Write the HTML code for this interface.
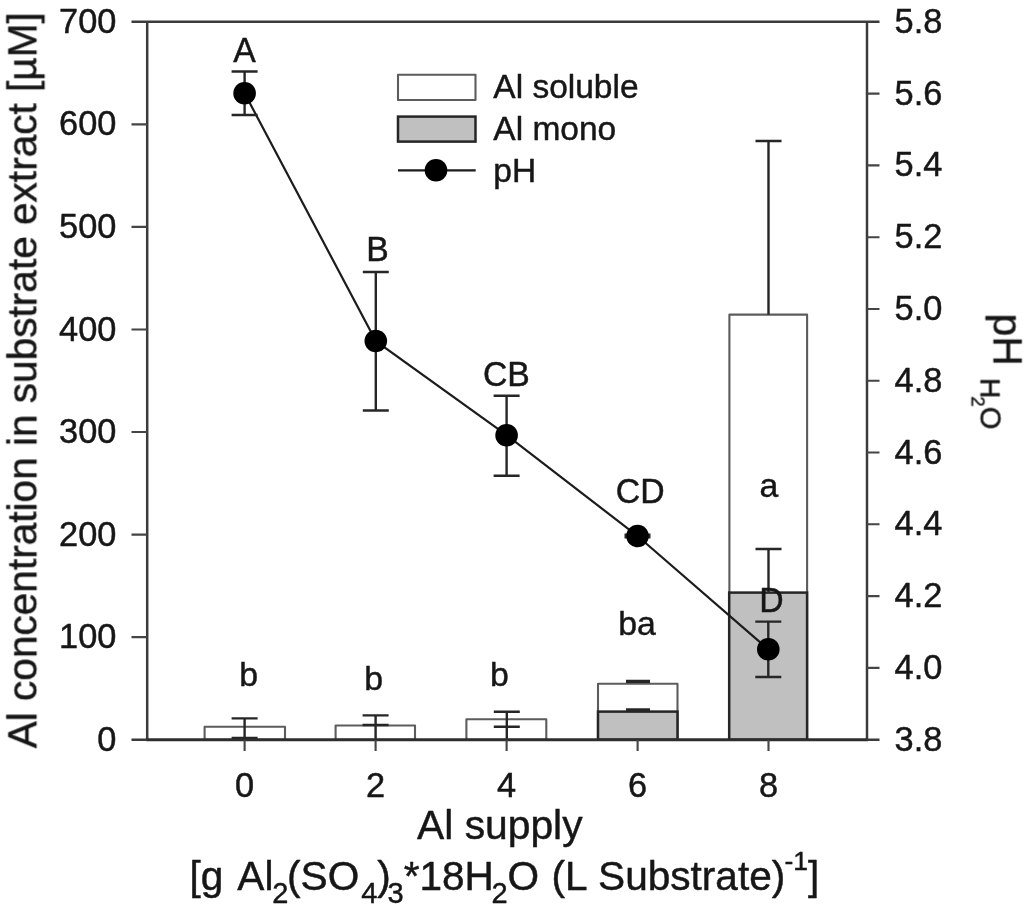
<!DOCTYPE html>
<html>
<head>
<meta charset="utf-8">
<title>Al supply chart</title>
<style>
html,body{margin:0;padding:0;background:#fff;}
body{width:1024px;height:910px;overflow:hidden;}
svg{display:block;font-family:"Liberation Sans",Arial,sans-serif;}
text{fill:#161616;stroke:#161616;stroke-width:0.45px;stroke-linejoin:round;}
.ax{stroke:#3a3a3a;stroke-width:2.5;fill:none;}
.tm{stroke:#444;stroke-width:2.1;fill:none;}
.axb{stroke:#2e2e2e;stroke-width:3;fill:none;}
.ln{stroke:#1c1c1c;stroke-width:2.2;fill:none;}
.eb{stroke:#262626;stroke-width:2.4;fill:none;}
.wb{fill:#fff;stroke:#5c5c5c;stroke-width:2.1;stroke-linejoin:round;}
.gb{fill:#c0c0c0;stroke:#262626;stroke-width:2.5;}
.pt{fill:#000;stroke:none;}
.tk{font-size:34.4px;}
.lg{font-size:33.5px;}
.lb{font-size:33.8px;text-anchor:middle;}
.tt{font-size:40.8px;}
.sb{font-size:29px;}
.sp{font-size:26.5px;}
</style>
</head>
<body>
<svg width="1024" height="910" viewBox="0 0 1024 910">
<defs><filter id="soft" x="-2%" y="-2%" width="104%" height="104%"><feGaussianBlur stdDeviation="0.7"/></filter></defs>
<rect x="0" y="0" width="1024" height="910" fill="#fff" stroke="none"/>
<g filter="url(#soft)">

<g id="bars">
<rect class="wb" x="204.6" y="726.8" width="80.4" height="12.9"/>
<rect class="wb" x="335.6" y="725.5" width="79.4" height="14.2"/>
<rect class="wb" x="466.4" y="719.3" width="79.9" height="20.4"/>
<rect class="wb" x="598.0" y="683.8" width="79.5" height="55.9"/>
<rect class="gb" x="598.0" y="711.6" width="79.5" height="28.1"/>
<rect class="wb" x="729.4" y="314.6" width="77.7" height="425.1"/>
<rect class="gb" x="729.2" y="592.6" width="77.9" height="147.1"/>
</g>
<g class="eb" id="barerr">
<path d="M244.6 718.4V739.7 M231.6 718.4H257.6M231.6 738H257.6"/>
<path d="M375.6 715.4V739.7 M362.6 715.4H388.6M362.6 725H388.6"/>
<path d="M506.8 711.7V739.7 M493.8 711.7H519.8M493.8 726.7H519.8"/>
<path d="M626 681.4H650M626 709.9H650" stroke-width="3.2"/>
<path d="M768.5 141V314.4M755.5 141H781.5"/>
<path d="M768.5 549V592.3M755.5 549H781.5"/>
</g>
<g id="axes">
<path class="ax" d="M147.2 21.8V739.7M867.0 21.8V739.7M131.5 21.8H879.5"/>
<path class="axb" d="M146.2 739.7H868.0"/>
<path class="ax" d="M131.5 739.7H147.2M867.0 739.7H879.5"/>
<path class="tm" d="M131.5 637.1H147.2M131.5 534.6H147.2M131.5 432.0H147.2M131.5 329.5H147.2M131.5 226.9H147.2M131.5 124.4H147.2"/>
<path class="tm" d="M867.0 667.9H879.5M867.0 596.1H879.5M867.0 524.3H879.5M867.0 452.5H879.5M867.0 380.8H879.5M867.0 309.0H879.5M867.0 237.2H879.5M867.0 165.4H879.5M867.0 93.6H879.5"/>
<path class="tm" d="M244.6 739.7V751M375.6 739.7V751M506.6 739.7V751M637.6 739.7V751M768.5 739.7V751"/>
</g>
<g id="ph">
<path class="ln" d="M244.6 93.3L375.8 341.0L506.6 435.2L637.5 536.0L768.3 649.3"/>
<g class="eb">
<path d="M244.6 71.5V115M231.6 71.5H257.6M231.6 115H257.6"/>
<path d="M375.8 272V410.5M362.8 272H388.8M362.8 410.5H388.8"/>
<path d="M506.6 395.8V475.8M493.6 395.8H519.6M493.6 475.8H519.6"/>
<path d="M624.5 536H650.5" stroke-width="5"/>
<path d="M768.3 621.6V677M755.3 621.6H781.3M755.3 677H781.3"/>
</g>
<circle class="pt" cx="244.6" cy="93.3" r="11.3"/>
<circle class="pt" cx="375.8" cy="341.0" r="11.3"/>
<circle class="pt" cx="506.6" cy="435.2" r="11.3"/>
<circle class="pt" cx="637.5" cy="536.0" r="11.3"/>
<circle class="pt" cx="768.3" cy="649.3" r="11.3"/>
</g>
<g id="legend">
<rect class="wb" x="398" y="74.8" width="77.5" height="25.2"/>
<rect class="gb" x="398" y="116.6" width="77.5" height="25"/>
<path class="ln" d="M398 170.3H475.7"/>
<circle class="pt" cx="436" cy="170.3" r="11.3"/>
<text class="lg" x="493.3" y="98.3">Al soluble</text>
<text class="lg" x="493.3" y="140.2">Al mono</text>
<text class="lg" x="493.3" y="182.2">pH</text>
</g>
<g class="tk" text-anchor="end" id="ylab">
<text transform="translate(116.4,32.8) scale(1,1.035)">700</text>
<text transform="translate(116.4,135.4) scale(1,1.035)">600</text>
<text transform="translate(116.4,237.9) scale(1,1.035)">500</text>
<text transform="translate(116.4,340.5) scale(1,1.035)">400</text>
<text transform="translate(116.4,443.0) scale(1,1.035)">300</text>
<text transform="translate(116.4,545.6) scale(1,1.035)">200</text>
<text transform="translate(116.4,648.1) scale(1,1.035)">100</text>
<text transform="translate(116.4,750.7) scale(1,1.035)">0</text>
</g>
<g class="tk" id="rlab">
<text transform="translate(894.6,32.8) scale(1,1.035)">5.8</text>
<text transform="translate(894.6,104.6) scale(1,1.035)">5.6</text>
<text transform="translate(894.6,176.4) scale(1,1.035)">5.4</text>
<text transform="translate(894.6,248.2) scale(1,1.035)">5.2</text>
<text transform="translate(894.6,320.0) scale(1,1.035)">5.0</text>
<text transform="translate(894.6,391.8) scale(1,1.035)">4.8</text>
<text transform="translate(894.6,463.5) scale(1,1.035)">4.6</text>
<text transform="translate(894.6,535.3) scale(1,1.035)">4.4</text>
<text transform="translate(894.6,607.1) scale(1,1.035)">4.2</text>
<text transform="translate(894.6,678.9) scale(1,1.035)">4.0</text>
<text transform="translate(894.6,750.7) scale(1,1.035)">3.8</text>
</g>
<g class="tk" text-anchor="middle" id="xlab">
<text transform="translate(244.6,797.3) scale(1,1.035)">0</text>
<text transform="translate(375.6,797.3) scale(1,1.035)">2</text>
<text transform="translate(506.6,797.3) scale(1,1.035)">4</text>
<text transform="translate(637.6,797.3) scale(1,1.035)">6</text>
<text transform="translate(768.5,797.3) scale(1,1.035)">8</text>
</g>
<g class="lb" id="letters">
<text transform="translate(244.6,62) scale(1,1.035)">A</text>
<text transform="translate(377.5,260.8) scale(1,1.035)">B</text>
<text transform="translate(506.4,385.6) scale(1,1.035)">CB</text>
<text transform="translate(640.2,502.5) scale(1,1.035)">CD</text>
<text transform="translate(771.5,612) scale(1,1.035)">D</text>
<text x="248.7" y="686">b</text>
<text x="373.7" y="690.2">b</text>
<text x="499.5" y="686">b</text>
<text x="637" y="634.8">ba</text>
<text x="769" y="497.2">a</text>
</g>
<g class="tt" id="titles">
<text x="499.8" y="838.9" text-anchor="middle">Al supply</text>
<text x="504.4" y="889.7" text-anchor="middle" font-size="40.6">[g<tspan dx="5"> Al</tspan><tspan class="sb" dy="13.6" dx="-1.2">2</tspan><tspan dy="-13.6" dx="-1.3">(SO</tspan><tspan class="sb" dy="13.6" dx="2">4</tspan><tspan dy="-13.6">)</tspan><tspan class="sb" dy="13.6" dx="-3.3">3</tspan><tspan dy="-13.6">*18H</tspan><tspan class="sb" dy="13.6" dx="-2.5">2</tspan><tspan dy="-13.6">O</tspan><tspan dx="1"> (L</tspan><tspan dx="0.8"> Substrate)</tspan><tspan class="sp" dy="-20" dx="-0.8">-1</tspan><tspan dy="20">]</tspan></text>
<text transform="translate(36.4,380.3) rotate(-90)" text-anchor="middle" font-size="40.6">Al concentration in substrate extract [µM]</text>
<g transform="translate(993.6,313.6) rotate(90)">
<text x="0" y="0">pH</text>
<text x="64.6" y="12.8" font-size="28">H</text>
<text x="82.8" y="22.3" font-size="18.5">2</text>
<text x="93.2" y="12.8" font-size="29">O</text>
</g>
</g>
</g>
</svg>
</body>
</html>
